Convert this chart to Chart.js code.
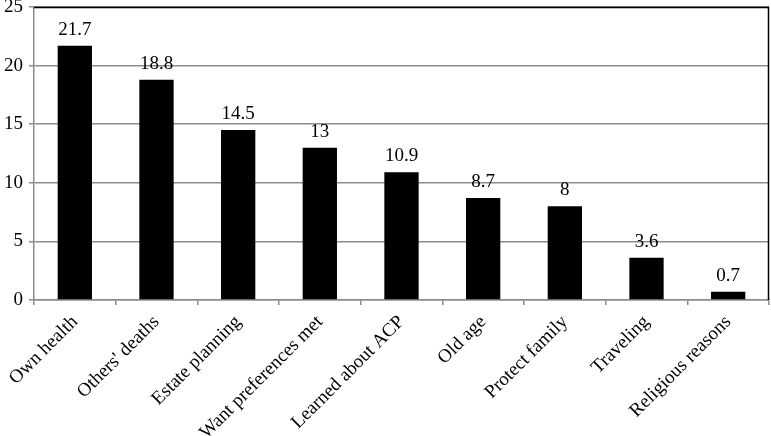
<!DOCTYPE html>
<html><head><meta charset="utf-8">
<script src="https://cdn.jsdelivr.net/npm/chart.js@4/dist/chart.umd.min.js"></script>
<style>html,body{margin:0;padding:0;background:#fff}#wrap{width:771px;height:436px}</style>
</head><body><div id="wrap"><canvas id="c"></canvas></div>
<script>
const categories = ["Own health","Others' deaths","Estate planning","Want preferences met","Learned about ACP","Old age","Protect family","Traveling","Religious reasons"];
const values = [21.7, 18.8, 14.5, 13, 10.9, 8.7, 8, 3.6, 0.7];
const yTicks = [0, 5, 10, 15, 20, 25];

const FONT = "'Liberation Serif','Times New Roman',serif";

const labelPlugin = {
  id: 'valueLabels',
  afterDatasetsDraw(chart) {
    const ctx = chart.ctx;
    const meta = chart.getDatasetMeta(0);
    ctx.save();
    ctx.font = "19px " + FONT;
    ctx.fillStyle = '#000';
    ctx.textAlign = 'center';
    ctx.textBaseline = 'alphabetic';
    meta.data.forEach((bar, i) => {
      ctx.fillText(String(values[i]), bar.x, bar.y - 11);
    });
    ctx.restore();
  }
};
const framePlugin = {
  id: 'frame',
  afterDraw(chart) {
    const a = chart.chartArea, ctx = chart.ctx;
    ctx.save();
    ctx.strokeStyle = '#000';
    ctx.lineWidth = 1.5;
    ctx.beginPath();
    ctx.moveTo(a.left, a.top + 0.5);
    ctx.lineTo(a.right - 0.5, a.top + 0.5);
    ctx.lineTo(a.right - 0.5, a.bottom);
    ctx.stroke();
    ctx.restore();
  }
};

new Chart(document.getElementById('c'), {
  type: 'bar',
  data: { labels: categories, datasets: [{ data: values, backgroundColor: '#000', borderWidth: 0, barPercentage: 0.42, categoryPercentage: 1 }] },
  options: {
    responsive: true, maintainAspectRatio: false, animation: false,
    layout: { padding: { top: 0, right: 2, left: 0, bottom: 0 } },
    plugins: { legend: { display: false }, tooltip: { enabled: false } },
    scales: {
      x: {
        offset: true,
        grid: { offset: true, drawOnChartArea: false, drawTicks: true, tickLength: 5, color: '#8c8c8c', lineWidth: 1.5 },
        border: { color: '#8c8c8c', width: 1.5 },
        ticks: { maxRotation: 45, minRotation: 45, color: '#000', font: { family: FONT, size: 19 }, padding: 6, autoSkip: false },
        afterFit(s) { s.height = 136; s.paddingLeft = 0; s.paddingRight = 0; }
      },
      y: {
        min: 0, max: 25,
        afterBuildTicks(s) { s.ticks = yTicks.map(v => ({ value: v })); },
        grid: { color: '#8c8c8c', lineWidth: 1.5, tickLength: 5 },
        border: { color: '#8c8c8c', width: 1.5 },
        ticks: { color: '#000', font: { family: FONT, size: 19 }, padding: 6 },
        afterFit(s) { s.width = 34; s.paddingTop = 7; s.paddingBottom = 0; }
      }
    }
  },
  plugins: [labelPlugin, framePlugin]
});
</script></body></html>
